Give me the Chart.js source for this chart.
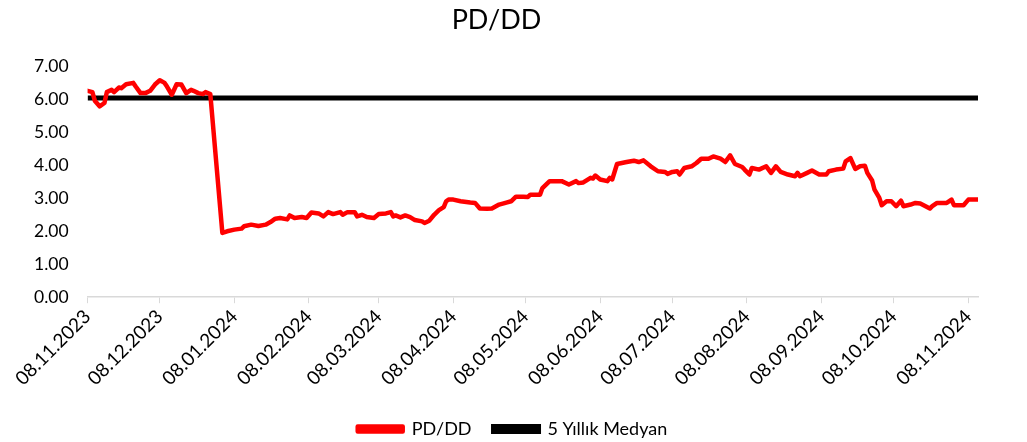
<!DOCTYPE html>
<html>
<head>
<meta charset="utf-8">
<script src="https://cdn.jsdelivr.net/npm/chart.js@4.4.1/dist/chart.umd.min.js"></script>
<style>
  html, body { margin: 0; padding: 0; background: #fff; }
  #wrap { width: 1027px; height: 442px; }
</style>
</head>
<body>
<div id="wrap"><canvas id="pdddChart" width="1027" height="442"></canvas></div>
<script>
// ===== DATA =====
const startDate = '2023-11-08';
const endDate = '2024-11-12';
const tickDates = ['2023-11-08', '2023-12-08', '2024-01-08', '2024-02-08', '2024-03-08', '2024-04-08',
  '2024-05-08', '2024-06-08', '2024-07-08', '2024-08-08', '2024-09-08', '2024-10-08', '2024-11-08'];

const dates = [
  '2023-11-08', '2023-11-10', '2023-11-11', '2023-11-13', '2023-11-15', '2023-11-16', '2023-11-18', '2023-11-19',
  '2023-11-21', '2023-11-22', '2023-11-24', '2023-11-27', '2023-11-28', '2023-11-30', '2023-12-02', '2023-12-04',
  '2023-12-06', '2023-12-08', '2023-12-10', '2023-12-11', '2023-12-13', '2023-12-15', '2023-12-17', '2023-12-19',
  '2023-12-21', '2023-12-22', '2023-12-24', '2023-12-26', '2023-12-27', '2023-12-29',
  '2024-01-03', '2024-01-05', '2024-01-08', '2024-01-11', '2024-01-12', '2024-01-15', '2024-01-18', '2024-01-21',
  '2024-01-23', '2024-01-25', '2024-01-27', '2024-01-30', '2024-01-31', '2024-02-02', '2024-02-05', '2024-02-07',
  '2024-02-09', '2024-02-12', '2024-02-14', '2024-02-16', '2024-02-18', '2024-02-21', '2024-02-22', '2024-02-24',
  '2024-02-27', '2024-02-28', '2024-03-01', '2024-03-03', '2024-03-06', '2024-03-08', '2024-03-11', '2024-03-13',
  '2024-03-14', '2024-03-15', '2024-03-17', '2024-03-19', '2024-03-21', '2024-03-23', '2024-03-26', '2024-03-27',
  '2024-03-29', '2024-03-31', '2024-04-02', '2024-04-04', '2024-04-05', '2024-04-06', '2024-04-08', '2024-04-11',
  '2024-04-15', '2024-04-17', '2024-04-19', '2024-04-22', '2024-04-24', '2024-04-27', '2024-04-30', '2024-05-02',
  '2024-05-04', '2024-05-07', '2024-05-09', '2024-05-10', '2024-05-14', '2024-05-15', '2024-05-18', '2024-05-23',
  '2024-05-26', '2024-05-29', '2024-05-30', '2024-06-01', '2024-06-04', '2024-06-05', '2024-06-06', '2024-06-08',
  '2024-06-11', '2024-06-12', '2024-06-13', '2024-06-15', '2024-06-19', '2024-06-22', '2024-06-24', '2024-06-26',
  '2024-06-29', '2024-07-02', '2024-07-05', '2024-07-06', '2024-07-08', '2024-07-10', '2024-07-11', '2024-07-13',
  '2024-07-16', '2024-07-18', '2024-07-20', '2024-07-23', '2024-07-25', '2024-07-28', '2024-07-30', '2024-08-01',
  '2024-08-03', '2024-08-06', '2024-08-07', '2024-08-09', '2024-08-10', '2024-08-13', '2024-08-16', '2024-08-18',
  '2024-08-20', '2024-08-22', '2024-08-25', '2024-08-28', '2024-08-29', '2024-08-30', '2024-09-02', '2024-09-04',
  '2024-09-07', '2024-09-10', '2024-09-11', '2024-09-14', '2024-09-17', '2024-09-18', '2024-09-20', '2024-09-22',
  '2024-09-24', '2024-09-26', '2024-09-27', '2024-09-29', '2024-09-30', '2024-10-02', '2024-10-03', '2024-10-05',
  '2024-10-07', '2024-10-09', '2024-10-11', '2024-10-12', '2024-10-15', '2024-10-17', '2024-10-19', '2024-10-23',
  '2024-10-24', '2024-10-26', '2024-10-30', '2024-11-01', '2024-11-02', '2024-11-06', '2024-11-08', '2024-11-12'
];

const pdddValues = [
  6.26, 6.22, 5.96, 5.79, 5.89, 6.22, 6.29, 6.22,
  6.36, 6.34, 6.46, 6.50, 6.39, 6.19, 6.19, 6.26,
  6.45, 6.58, 6.50, 6.39, 6.14, 6.46, 6.45, 6.19,
  6.29, 6.26, 6.19, 6.16, 6.22, 6.16,
  1.95, 2.00, 2.05, 2.08, 2.15, 2.20, 2.16, 2.20,
  2.28, 2.38, 2.40, 2.36, 2.48, 2.40, 2.43, 2.40,
  2.57, 2.54, 2.45, 2.58, 2.52, 2.58, 2.50, 2.58,
  2.58, 2.45, 2.50, 2.43, 2.40, 2.52, 2.54, 2.58,
  2.45, 2.48, 2.42, 2.48, 2.43, 2.34, 2.30, 2.25,
  2.32, 2.50, 2.64, 2.73, 2.91, 2.96, 2.96, 2.91,
  2.87, 2.86, 2.69, 2.68, 2.69, 2.81, 2.87, 2.91,
  3.05, 3.05, 3.04, 3.11, 3.11, 3.31, 3.52, 3.52,
  3.42, 3.52, 3.46, 3.48, 3.62, 3.60, 3.69, 3.57,
  3.52, 3.62, 3.57, 4.04, 4.10, 4.14, 4.10, 4.15,
  3.97, 3.82, 3.80, 3.74, 3.80, 3.82, 3.72, 3.92,
  3.97, 4.07, 4.20, 4.20, 4.27, 4.20, 4.10, 4.30,
  4.04, 3.95, 3.87, 3.72, 3.92, 3.87, 3.97, 3.77,
  3.97, 3.80, 3.72, 3.67, 3.77, 3.67, 3.77, 3.84,
  3.72, 3.72, 3.82, 3.87, 3.90, 4.12, 4.22, 3.89,
  3.97, 3.99, 3.77, 3.54, 3.26, 3.01, 2.79, 2.91,
  2.91, 2.76, 2.93, 2.76, 2.81, 2.86, 2.84, 2.69,
  2.76, 2.86, 2.86, 2.96, 2.79, 2.79, 2.96, 2.96
];

const medianValue = 6.04;
const yTicks = [0, 1, 2, 3, 4, 5, 6, 7];

// ===== HELPERS =====
const DAY = 86400000;
const dayOffset = (iso) => (Date.parse(iso) - Date.parse(startDate)) / DAY;
const fmtDate = (iso) => { const [y, m, d] = iso.split('-'); return d + '.' + m + '.' + y; };
const tickMap = {};
tickDates.forEach(d => { tickMap[dayOffset(d)] = fmtDate(d); });
const maxDay = dayOffset(endDate);

const font = 'Lato, "Open Sans", sans-serif';

// nudge the legend so it sits centred on the canvas, not on the padded area
const legendShift = {
  id: 'legendShift',
  afterLayout(chart) {
    chart.legend.left += 16;
    chart.legend.right += 16;
  }
};

// ===== CHART =====
new Chart(document.getElementById('pdddChart'), {
  type: 'line',
  data: {
    datasets: [{
      label: 'PD/DD',
      data: dates.map((d, i) => ({ x: dayOffset(d), y: pdddValues[i] })),
      borderColor: '#ff0000',
      backgroundColor: '#ff0000',
      borderWidth: 4.5,
      borderJoinStyle: 'round',
      borderCapStyle: 'round',
      pointRadius: 0,
      tension: 0
    }, {
      label: '5 Yıllık Medyan',
      data: [{ x: 0, y: medianValue }, { x: maxDay, y: medianValue }],
      borderColor: '#000000',
      backgroundColor: '#000000',
      borderWidth: 5,
      pointRadius: 0,
      tension: 0
    }]
  },
  plugins: [legendShift],
  options: {
    responsive: false,
    animation: false,
    layout: { padding: { left: 15, right: 49, top: 2, bottom: -6 } },
    plugins: {
      title: {
        display: true,
        text: 'PD/DD',
        color: '#000',
        font: { family: font, size: 27, weight: 'normal' },
        padding: { top: 2, bottom: 30 }
      },
      legend: {
        position: 'bottom',
        labels: {
          color: '#000',
          font: { family: font, size: 18 },
          boxWidth: 45,
          boxHeight: 5,
          padding: 22
        }
      },
      tooltip: { enabled: false }
    },
    scales: {
      x: {
        type: 'linear',
        min: 0,
        max: maxDay,
        afterBuildTicks: (axis) => { axis.ticks = tickDates.map(d => ({ value: dayOffset(d) })); },
        afterFit: (axis) => { axis.height += 6; },
        ticks: {
          color: '#000',
          font: { family: font, size: 19 },
          minRotation: 45,
          maxRotation: 45,
          padding: 2,
          autoSkip: false,
          callback: (v) => tickMap[v] || ''
        },
        grid: { drawOnChartArea: false, drawTicks: true, tickLength: 6, color: '#d9d9d9' },
        border: { color: '#d9d9d9', width: 1.5 }
      },
      y: {
        min: 0,
        max: 7,
        afterBuildTicks: (axis) => { axis.ticks = yTicks.map(v => ({ value: v })); },
        ticks: {
          color: '#000',
          font: { family: font, size: 17.5 },
          padding: 19,
          callback: (v) => v.toFixed(2)
        },
        grid: { display: false, drawTicks: false },
        border: { display: false }
      }
    }
  }
});
</script>
</body>
</html>
